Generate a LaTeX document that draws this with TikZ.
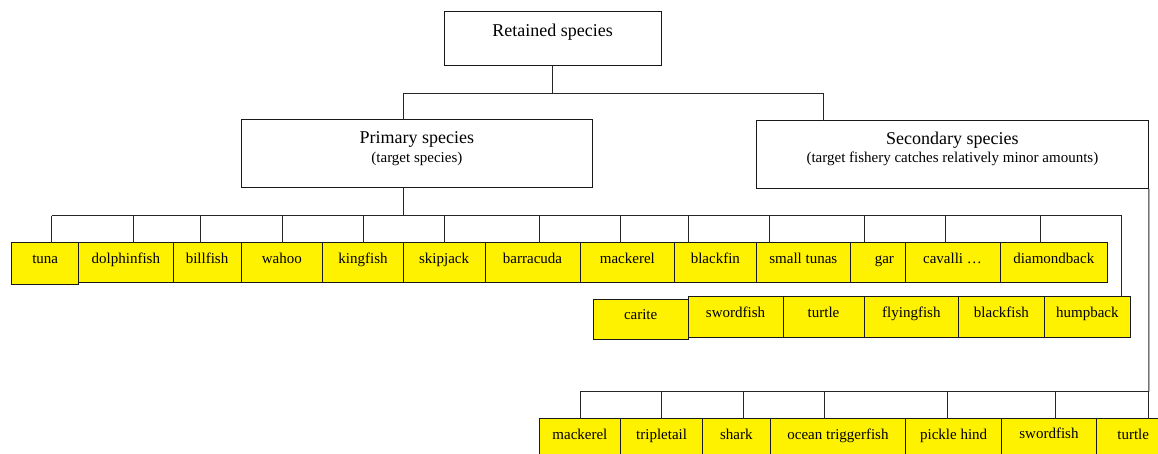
\documentclass[tikz,border=0pt]{standalone}
\usepackage{fontspec}
\setmainfont{Liberation Serif}
\usetikzlibrary{fit}

% yellow species box: name, left, right, top, bottom, baseline offset from top, label
\newcommand\leafnode[7]{%
  \node[leafbox, fit={(#2,#4)(#3,#5)}] (#1) {};
  \node[leaftext] (#1-t) at ([yshift=-#6pt]#1.north) {#7};}
% drop line from a bus down to a species box: name, x of the drop, y of the bus
\newcommand\leafdrop[3]{%
  \coordinate (#1-d) at (#2,#3);
  \draw[conn] (#1-d) -- (#1-d |- #1.north);}

\begin{document}
\begin{tikzpicture}[x=1pt,y=-1pt,
  conn/.style={draw=black!85, line width=0.9pt},
  headbox/.style={draw=black!90, line width=1pt, fill=white, inner sep=0pt, outer sep=0pt},
  leafbox/.style={draw=black!90, line width=1pt, fill=yellow, inner sep=0pt, outer sep=0pt},
  leaftext/.style={inner sep=0pt, anchor=base, font=\fontsize{15}{18}\selectfont},
  titletext/.style={inner sep=0pt, anchor=base, font=\fontsize{18}{21}\selectfont},
  subtext/.style={inner sep=0pt, anchor=base, font=\fontsize{15}{18}\selectfont}]
\useasboundingbox (0,0) rectangle (1158,454);
\clip (0,0) rectangle (1158,454);

% ---- header boxes
\node[headbox, fit={(444,11.7)(661,65.7)}] (retained) {};
\node[titletext] (retained-t) at (552.5,36.5) {Retained species};

\node[headbox, fit={(241.3,120)(592.5,187.7)}] (primary) {};
\node[titletext] (primary-t) at (416.9,143.3) {Primary species};
\node[subtext] (primary-s) at (416.9,162.4) {(target species)};

\node[headbox, fit={(756,121)(1148.8,189)}] (secondary) {};
\node[titletext] (secondary-t) at (952.4,144.3) {Secondary species};
\node[subtext] (secondary-s) at (952.4,163) {(target fishery catches relatively minor amounts)};

% ---- first row of primary species
\leafnode{tuna}{11.7}{78.7}{242.7}{284}{20.5}{tuna}
\leafnode{dolphinfish}{78.7}{173}{242.7}{282.7}{20.5}{dolphinfish}
\leafnode{billfish}{173}{241}{242.7}{282.7}{20.5}{billfish}
\leafnode{wahoo}{241}{322.7}{242.7}{282.7}{20.5}{wahoo}
\leafnode{kingfish}{322.7}{403.3}{242.7}{282.7}{20.5}{kingfish}
\leafnode{skipjack}{403.3}{485}{242.7}{282.7}{20.5}{skipjack}
\leafnode{barracuda}{485}{580}{242.7}{282.7}{20.5}{barracuda}
\leafnode{mackerelA}{580}{674.7}{242.7}{282.7}{20.5}{mackerel}
\leafnode{blackfin}{674.7}{756}{242.7}{282.7}{20.5}{blackfin}
\leafnode{smalltunas}{756}{850.7}{242.7}{282.7}{20.5}{small tunas}
\leafnode{gar}{850.7}{918}{242.3}{282.7}{20.9}{gar}
\leafnode{cavalli}{905}{1000}{242.7}{282.7}{20.5}{cavalli …}
\leafnode{diamondback}{1000}{1107.7}{242.7}{282.7}{20.5}{diamondback}

% ---- second row of primary species
\leafnode{carite}{593.3}{688}{299}{339.3}{20.3}{carite}
\leafnode{swordfishA}{688}{783}{296.5}{337.3}{20.7}{swordfish}
\leafnode{turtleA}{783}{864}{296.5}{337.3}{20.7}{turtle}
\leafnode{flyingfish}{864}{958.8}{296.5}{337.3}{20.7}{flyingfish}
\leafnode{blackfish}{958.8}{1044}{296.5}{337.3}{20.7}{blackfish}
\leafnode{humpback}{1044}{1130.7}{296.5}{337.3}{20.7}{humpback}

% ---- secondary species
\leafnode{mackerelB}{539}{620.8}{418.5}{470}{20.8}{mackerel}
\leafnode{tripletail}{620.8}{702.4}{418.5}{470}{20.8}{tripletail}
\leafnode{shark}{702.4}{770.2}{418.5}{470}{20.8}{shark}
\leafnode{triggerfish}{770.2}{905.7}{418.5}{470}{20.8}{ocean triggerfish}
\leafnode{picklehind}{905.7}{1001.6}{418.5}{470}{20.8}{pickle hind}
\leafnode{swordfishB}{1001.6}{1096.3}{418.5}{470}{19.8}{swordfish}
\leafnode{turtleB}{1096.3}{1170}{418.5}{470}{20.8}{turtle}

% ---- connectors from the top box
\coordinate (pu) at (403.3,93.7);
\coordinate (su) at (823.7,93.7);
\draw[conn] (retained.south) -- (retained.south |- pu);
\draw[conn] (pu |- primary.north) |- (su) -- (su |- secondary.north);

% ---- primary species bus
\leafdrop{tuna}{51.7}{215.7}
\leafdrop{dolphinfish}{133}{215.7}
\leafdrop{billfish}{200}{215.7}
\leafdrop{wahoo}{282}{215.7}
\leafdrop{kingfish}{363}{215.7}
\leafdrop{skipjack}{444.3}{215.7}
\leafdrop{barracuda}{539}{215.7}
\leafdrop{mackerelA}{620.3}{215.7}
\leafdrop{blackfin}{688.3}{215.7}
\leafdrop{smalltunas}{769.3}{215.7}
\leafdrop{gar}{864.7}{215.7}
\leafdrop{cavalli}{945.3}{215.7}
\leafdrop{diamondback}{1040.3}{215.7}
\leafdrop{humpback}{1121.7}{215.7}
\draw[conn] (pu |- primary.south) -- (pu |- tuna-d);
\draw[conn] (tuna-d) -- (humpback-d);

% ---- secondary species bus
\leafdrop{mackerelB}{580}{391.7}
\leafdrop{tripletail}{661.6}{391.7}
\leafdrop{shark}{743.3}{391.7}
\leafdrop{triggerfish}{824.5}{391.7}
\leafdrop{picklehind}{947}{391.7}
\leafdrop{swordfishB}{1055.5}{391.7}
\leafdrop{turtleB}{1148.8}{391.7}
\draw[conn] (secondary.south east) -- (turtleB-d);
\draw[conn] (mackerelB-d) -- (turtleB-d);
\end{tikzpicture}
\end{document}
